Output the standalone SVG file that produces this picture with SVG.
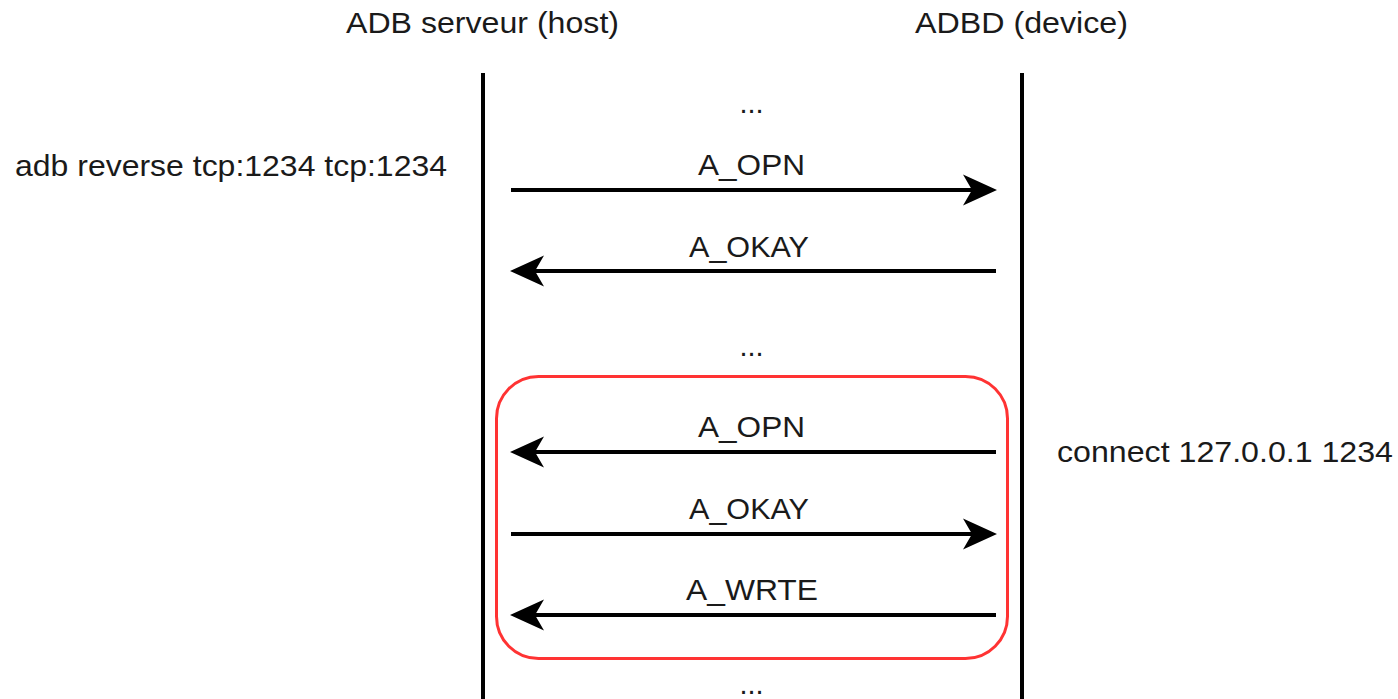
<svg xmlns="http://www.w3.org/2000/svg" width="1398" height="699" viewBox="0 0 1398 699">
  <style>
    text { font-family: "Liberation Sans", Arial, sans-serif; font-size: 29px; fill: #1a1a1a; }
    .mid { text-anchor: middle; }
    .life { stroke: #000; stroke-width: 4; fill: none; }
    .msg { stroke: #000; stroke-width: 4; fill: none; marker-end: url(#arrow); }
    .frame { fill: none; stroke: #ff3333; stroke-width: 3; }
  </style>
  <defs>
    <marker id="arrow" viewBox="0 0 34 32" markerUnits="userSpaceOnUse" markerWidth="34" markerHeight="32" refX="12" refY="16" orient="auto">
      <path d="M0,0.5 L34,16 L0,31.5 L9,16 Z" fill="#000"/>
    </marker>
  </defs>
  <rect width="1398" height="699" fill="#ffffff"/>

  <g id="host">
    <text class="mid" x="482.5" y="33" textLength="273" lengthAdjust="spacingAndGlyphs">ADB serveur (host)</text>
    <line class="life" x1="483" y1="73" x2="483" y2="699"/>
  </g>
  <g id="device">
    <text class="mid" x="1021.5" y="33" textLength="213" lengthAdjust="spacingAndGlyphs">ADBD (device)</text>
    <line class="life" x1="1022" y1="73" x2="1022" y2="699"/>
  </g>

  <g id="note-reverse">
    <text x="15" y="176" textLength="432" lengthAdjust="spacingAndGlyphs">adb reverse tcp:1234 tcp:1234</text>
  </g>
  <g id="note-connect">
    <text x="1057" y="462" textLength="336" lengthAdjust="spacingAndGlyphs">connect 127.0.0.1 1234</text>
  </g>

  <g id="ellipsis">
    <text class="mid" x="751.5" y="113">...</text>
    <text class="mid" x="751.5" y="356">...</text>
    <text class="mid" x="751.5" y="694">...</text>
  </g>

  <g id="frame">
    <rect class="frame" x="496.5" y="376.5" width="511" height="282" rx="42" ry="42"/>
  </g>

  <g id="connectors">
    <line class="msg" x1="511" y1="190" x2="975" y2="190"/>
    <line class="msg" x1="996" y1="271" x2="532" y2="271"/>
    <line class="msg" x1="996" y1="452" x2="532" y2="452"/>
    <line class="msg" x1="511" y1="534" x2="975" y2="534"/>
    <line class="msg" x1="996" y1="615" x2="532" y2="615"/>
  </g>

  <g id="labels">
    <text class="mid" x="751.5" y="175" textLength="107" lengthAdjust="spacingAndGlyphs">A_OPN</text>
    <text class="mid" x="749" y="257" textLength="120" lengthAdjust="spacingAndGlyphs">A_OKAY</text>
    <text class="mid" x="751.5" y="437" textLength="107" lengthAdjust="spacingAndGlyphs">A_OPN</text>
    <text class="mid" x="749" y="519" textLength="120" lengthAdjust="spacingAndGlyphs">A_OKAY</text>
    <text class="mid" x="752" y="600" textLength="132" lengthAdjust="spacingAndGlyphs">A_WRTE</text>
  </g>
</svg>
